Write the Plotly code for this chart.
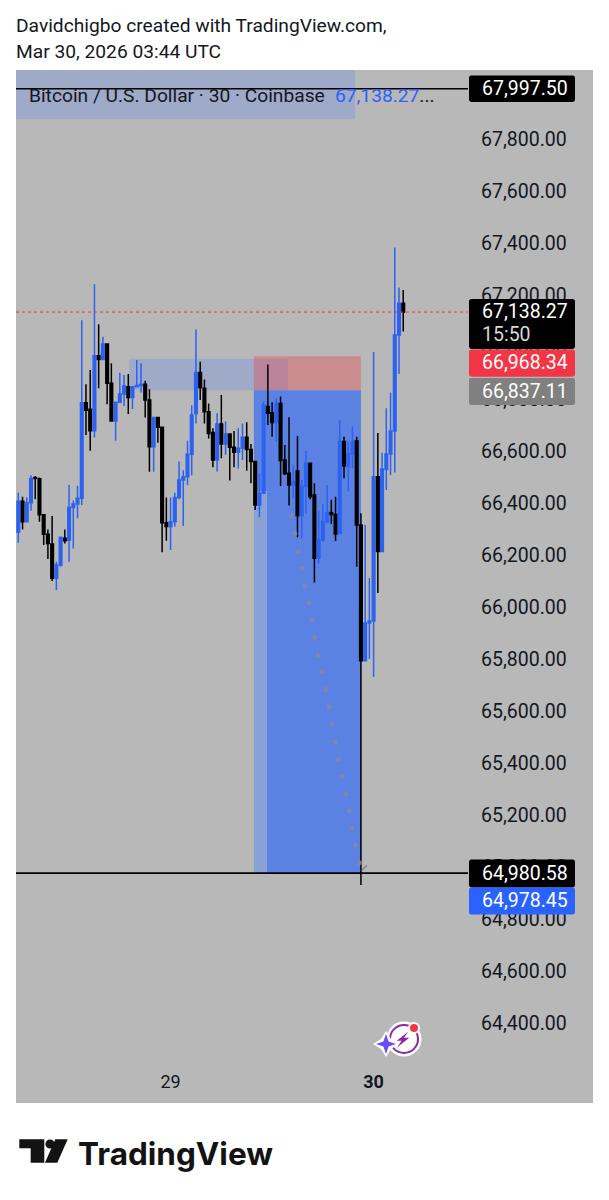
import pandas as pd
import plotly.graph_objects as go

# 30-minute BTC/USD bars, Coinbase
opens = [66291,66411,66332,66405,66502,66497,66359,66284,66246,66114,66165,66268,66261,66387,66400,66422,66789,66764,66682,66970,66956,67015,66864,66719,66791,66823,66851,66810,66851,66856,66861,66800,66620,66733,66695,66328,66313,66332,66425,66492,66505,66591,66748,66906,66845,66755,66675,66569,66708,66631,66669,66618,66599,66614,66657,66610,66563,66396,66441,66775,66751,66713,66787,66569,66518,66473,66527,66355,66467,66557,66435,66191,66262,66332,66367,66360,66287,66640,66546,66592,66642,66319,65797,65942,65950,66505,66217,66533,66592,66681,67050,67172]
highs = [66443,66428,66425,66511,66507,66502,66359,66302,66354,66178,66272,66302,66473,66413,66470,67107,66861,66915,67245,67091,67043,67015,66941,66793,66905,66896,66900,66854,66954,66941,66874,66841,66733,66736,66695,66425,66425,66443,66563,66530,66643,66780,67071,66947,66879,66787,66691,66749,66819,66717,66672,66681,66691,66710,66714,66631,66563,66516,66794,66937,66791,66807,66813,66627,66734,66550,66662,66492,66604,66559,66480,66375,66400,66473,66416,66428,66723,66659,66640,66698,66659,66364,66319,66115,66985,66673,66597,66768,66828,67387,67233,67223]
lows = [66251,66302,66332,66374,66418,66332,66242,66188,66104,66069,66159,66248,66178,66229,66345,66396,66665,66605,66656,66845,66954,66784,66716,66643,66789,66777,66746,66765,66851,66829,66733,66524,66524,66636,66214,66259,66223,66313,66418,66315,66473,66511,66710,66800,66710,66652,66541,66525,66576,66589,66490,66541,66537,66569,66528,66480,66377,66349,66441,66704,66659,66640,66469,66512,66394,66422,66272,66268,66364,66418,66098,66172,66255,66326,66323,66258,66285,66499,66448,66537,66159,64935,65797,65804,65735,66058,66217,66454,66512,66521,66900,67063]
closes = [66411,66332,66405,66498,66498,66359,66284,66248,66114,66165,66272,66259,66387,66400,66422,66789,66761,66682,66970,66956,67015,66864,66719,66791,66823,66854,66810,66851,66856,66861,66800,66620,66733,66695,66328,66313,66332,66425,66492,66505,66591,66742,66906,66848,66755,66671,66569,66708,66631,66669,66618,66599,66614,66657,66610,66563,66396,66441,66781,66749,66713,66787,66567,66516,66473,66486,66355,66467,66557,66428,66191,66262,66332,66367,66360,66285,66640,66546,66592,66640,66319,65797,65942,65950,66505,66217,66535,66592,66681,67050,67172,67138.27]

# Projected path drawn on the chart: fractional bar position, price
path_bars = [64.6,65.4,66.2,67.0,67.85,68.7,69.4,70.1,70.9,71.7,72.7,73.5,74.2,74.9,75.65,76.5,77.4,78.2,78.8,79.7,80.6]
path_prices = [66354,66287,66217,66153,66085,66020,65954,65887,65819,65755,65687,65620,65554,65486,65418,65351,65285,65220,65155,65088,65020]

price_ticks = list(range(64400, 68000, 200))
tick_labels = [f"{p:,.2f}" for p in price_ticks]

LAST = 67138.27
ENTRY_TOP = 66968.34
ENTRY = 66837.11
LOW_LINE = 64980.58
TARGET = 64978.45
HIGH_LINE = 67997.50

# Page geometry of the pane, in pixels
L, R, T, B = 16, 468, 70, 1065
PANE_R, PANE_B = 593, 1103
W, H = 609, 1200

T0 = pd.Timestamp("2026-03-28 06:00")
def bar_time(i):
    return T0 + pd.Timedelta(minutes=30) * i

def px_x(x):
    return (x - L) / (R - L)

def px_y(y):
    return (B - y) / (B - T)

bar_w = 4.23
x_left = bar_time((L - 18.3) / bar_w)
x_right = bar_time((R - 18.3) / bar_w)
y_top = 67800 + (140 - T) / 0.26
y_bot = 67800 - (B - 140) / 0.26

times = [bar_time(i) for i in range(len(opens))]

BLUE = "#2c62f0"
INK = "#131722"

fig = go.Figure()
fig.add_trace(go.Scatter(
    x=[bar_time(b) for b in path_bars], y=path_prices, mode="markers",
    marker=dict(size=5, color="rgba(128,138,170,0.85)"), hoverinfo="skip", showlegend=False,
))
fig.add_trace(go.Candlestick(
    x=times, open=opens, high=highs, low=lows, close=closes,
    increasing=dict(line=dict(color=BLUE, width=1.5), fillcolor=BLUE),
    decreasing=dict(line=dict(color="#000000", width=1.5), fillcolor="#000000"),
    whiskerwidth=0, showlegend=False,
))

shapes = []

def rect_data(i0, i1, p0, p1, color):
    shapes.append(dict(type="rect", layer="below", xref="x", yref="y",
                       x0=bar_time(i0), x1=bar_time(i1), y0=p0, y1=p1,
                       fillcolor=color, line_width=0))

def rect_page(x0, y0, x1, y1, color, layer="below"):
    shapes.append(dict(type="rect", layer=layer, xref="paper", yref="paper",
                       x0=px_x(x0), x1=px_x(x1), y0=px_y(y0), y1=px_y(y1),
                       fillcolor=color, line_width=0))

def poly_page(points, color, layer="above"):
    d = "M" + " L".join(f"{px_x(x):.5f},{px_y(y):.5f}" for x, y in points) + " Z"
    shapes.append(dict(type="path", layer=layer, xref="paper", yref="paper", path=d,
                       fillcolor=color, line_width=0))

def disc(cx, cy, r, fill, line=None, lw=0, layer="above"):
    shapes.append(dict(type="circle", layer=layer, xref="paper", yref="paper",
                       x0=px_x(cx - r), x1=px_x(cx + r), y0=px_y(cy + r), y1=px_y(cy - r),
                       fillcolor=fill, line=dict(color=line or fill, width=lw)))

def tag(y0, y1, color, x0=469, x1=575, r=2.5):
    a, b = px_x(x0), px_x(x1)
    rx, ry = r / (R - L), r / (B - T)
    t, u = px_y(y0), px_y(y1)
    d = (f"M{a+rx:.5f},{t:.5f} L{b-rx:.5f},{t:.5f} Q{b:.5f},{t:.5f} {b:.5f},{t-ry:.5f} "
         f"L{b:.5f},{u+ry:.5f} Q{b:.5f},{u:.5f} {b-rx:.5f},{u:.5f} "
         f"L{a+rx:.5f},{u:.5f} Q{a:.5f},{u:.5f} {a:.5f},{u+ry:.5f} "
         f"L{a:.5f},{t-ry:.5f} Q{a:.5f},{t:.5f} {a+rx:.5f},{t:.5f} Z")
    shapes.append(dict(type="path", layer="above", xref="paper", yref="paper", path=d,
                       fillcolor=color, line_width=0))

def star(cx, cy, r, q):
    return [(cx, cy - r), (cx + q, cy - q), (cx + r, cy), (cx + q, cy + q),
            (cx, cy + r), (cx - q, cy + q), (cx - r, cy), (cx - q, cy - q)]

# Grey pane continues under the price scale and the time scale
rect_page(L, T, PANE_R, PANE_B, "#b8b8b8")

# Drawn zones
rect_data(-0.6, 79.6, 67880, 68300, "#9eaac8")
rect_data(26.2, 63.8, ENTRY, ENTRY_TOP - 10, "#9eaac8")
rect_data(55.7, 81.0, ENTRY_TOP, ENTRY, "rgba(229,71,76,0.38)")
rect_data(55.7, 81.0, ENTRY, TARGET, "#8aa1d6")
rect_data(58.8, 81.0, ENTRY, TARGET, "#5b82e2")
rect_data(55.7, 58.8, ENTRY, 66450, "#5b82e2")

# Horizontal levels
for level, color, width, dash in [(HIGH_LINE, "#000000", 1.5, "solid"),
                                  (LOW_LINE, "#000000", 1.8, "solid"),
                                  (LAST, "#f23645", 1, "dot")]:
    shapes.append(dict(type="line", layer="above", xref="paper", yref="y", x0=0, x1=1,
                       y0=level, y1=level, line=dict(color=color, width=width, dash=dash)))
shapes.append(dict(type="line", layer="above", xref="x", yref="y",
                   x0=bar_time(81.3), x1=bar_time(82.4), y0=64992, y1=65011,
                   line=dict(color="#85858f", width=1.5)))

# Price tags
tag(75.5, 102, "#000000")
tag(299, 349, "#000000")
tag(349.5, 376.7, "#f23645")
tag(378, 405, "#808080")
tag(859.5, 887.5, "#000000")
tag(887.5, 914.5, "#2962ff")

# Assistant badge
disc(404, 1039, 17.5, "#ffffff")
disc(404, 1039, 14, "rgba(0,0,0,0)", "#8e24aa", 2)
poly_page(star(386, 1044, 13, 5), "#ffffff")
poly_page(star(386, 1044, 10, 2.6), "#6a4cff")
poly_page([(408.3, 1031.7), (396.7, 1040.7), (401.7, 1040.7), (396.7, 1047.7),
           (409.3, 1037.7), (404, 1037.7)], "#8e24aa")
disc(414, 1028, 6, "#ffffff")
disc(414, 1028, 4, "#f23645")

# Brand mark
poly_page([(19.3, 1139.3), (44.3, 1139.3), (44.3, 1162.7), (30.7, 1162.7),
           (30.7, 1148.3), (19.3, 1148.3)], "#131313", "below")
disc(50, 1144, 4.6, "#131313", layer="below")
poly_page([(55.3, 1139.3), (67.7, 1139.3), (57.3, 1162.7), (45, 1162.7)], "#131313", "below")

annotations = []

def label(x, y, text, size=18, color=INK, anchor="left", family="Roboto"):
    annotations.append(dict(xref="paper", yref="paper", x=px_x(x), y=px_y(y), text=text,
                            showarrow=False, xanchor=anchor, yanchor="middle",
                            font=dict(family=family, size=size, color=color)))

label(14, 26, "Davidchigbo created with TradingView.com,", 19.2)
label(14, 52, "Mar 30, 2026 03:44 UTC", 19.2)
label(27, 95, "Bitcoin / U.S. Dollar · 30 · Coinbase", 19.2)
label(333, 95, "<span style='color:#2962ff'>67,138.27</span>...", 19.2)

for y, text, col in [(88.5, f"{HIGH_LINE:,.2f}", "#ffffff"),
                     (311, f"{LAST:,.2f}", "#ffffff"),
                     (334, "15:50", "#d8d8d8"),
                     (362.5, f"{ENTRY_TOP:,.2f}", "#ffffff"),
                     (391, f"{ENTRY:,.2f}", "#ffffff"),
                     (873.5, f"{LOW_LINE:,.2f}", "#ffffff"),
                     (900.5, f"{TARGET:,.2f}", "#ffffff")]:
    label(480, y, text, 19.5, col)

label(76, 1153, "<b>TradingView</b>", 31.5, "#131313", family="Inter")

fig.update_layout(
    width=W, height=H, autosize=False,
    margin=dict(l=L, r=W - R, t=T, b=H - B, pad=0),
    paper_bgcolor="#ffffff", plot_bgcolor="#b8b8b8",
    font=dict(family="Roboto", color=INK),
    shapes=shapes, annotations=annotations, showlegend=False, boxgap=0.12,
    xaxis=dict(
        type="date", range=[x_left, x_right], rangeslider=dict(visible=False),
        showgrid=False, zeroline=False, showline=False,
        tickmode="array", tickvals=[bar_time(36), bar_time(84)], ticktext=["29", "<b>30</b>"],
        ticks="", ticklabelstandoff=4,
        tickfont=dict(family="Roboto", size=18, color=INK),
    ),
    yaxis=dict(
        side="right", range=[y_bot, y_top], showgrid=False, zeroline=False, showline=False,
        tickmode="array", tickvals=price_ticks, ticktext=tick_labels,
        ticks="", ticklabelstandoff=12, ticklabelshift=-1,
        tickfont=dict(family="Roboto", size=19.5, color=INK),
    ),
)

fig.write_html("out.html", config=dict(displayModeBar=False))
